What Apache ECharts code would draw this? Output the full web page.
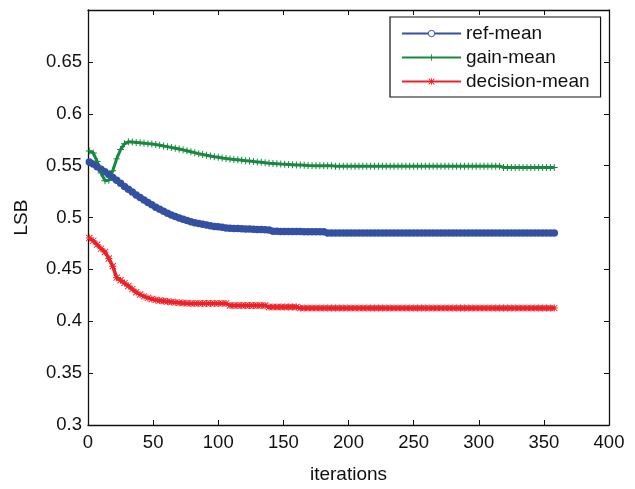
<!DOCTYPE html>
<html>
<head>
<meta charset="utf-8">
<script src="https://cdn.jsdelivr.net/npm/echarts@6/dist/echarts.min.js"></script>
<style>
  html, body { margin: 0; padding: 0; background: #fff; }
  #chart { width: 635px; height: 489px; }
</style>
</head>
<body>
<div id="chart"></div>
<script>
// Iteration numbers at which the mean LSB values are plotted
const iterations = [
  1, 4, 7, 10, 13, 16, 19, 22, 25, 28,
  31, 34, 37, 40, 43, 46, 49, 52, 55, 58,
  61, 64, 67, 70, 73, 76, 79, 82, 85, 88,
  91, 94, 97, 100, 103, 106, 109, 112, 115, 118,
  121, 124, 127, 130, 133, 136, 139, 142, 145, 148,
  151, 154, 157, 160, 163, 166, 169, 172, 175, 178,
  181, 184, 187, 190, 193, 196, 199, 202, 205, 208,
  211, 214, 217, 220, 223, 226, 229, 232, 235, 238,
  241, 244, 247, 250, 253, 256, 259, 262, 265, 268,
  271, 274, 277, 280, 283, 286, 289, 292, 295, 298,
  301, 304, 307, 310, 313, 316, 319, 322, 325, 328,
  331, 334, 337, 340, 343, 346, 349, 352, 355, 358
];

const refMean = [
  0.5535, 0.5515, 0.5490, 0.5465, 0.5440, 0.5415, 0.5385, 0.5358, 0.5330, 0.5300,
  0.5272, 0.5245, 0.5218, 0.5192, 0.5168, 0.5145, 0.5122, 0.5100, 0.5080, 0.5060,
  0.5042, 0.5025, 0.5010, 0.4995, 0.4982, 0.4970, 0.4960, 0.4950, 0.4942, 0.4934,
  0.4927, 0.4920, 0.4914, 0.4910, 0.4905, 0.4900, 0.4897, 0.4895, 0.4893, 0.4891,
  0.4890, 0.4888, 0.4886, 0.4885, 0.4884, 0.4882, 0.4880, 0.4868, 0.4867, 0.4866,
  0.4866, 0.4865, 0.4865, 0.4864, 0.4864, 0.4863, 0.4863, 0.4862, 0.4862, 0.4862,
  0.4862, 0.4850, 0.4850, 0.4850, 0.4850, 0.4850, 0.4850, 0.4850, 0.4850, 0.4850,
  0.4850, 0.4850, 0.4850, 0.4850, 0.4850, 0.4850, 0.4850, 0.4850, 0.4850, 0.4850,
  0.4850, 0.4850, 0.4850, 0.4850, 0.4850, 0.4850, 0.4850, 0.4850, 0.4850, 0.4850,
  0.4850, 0.4850, 0.4850, 0.4850, 0.4850, 0.4850, 0.4850, 0.4850, 0.4850, 0.4850,
  0.4850, 0.4850, 0.4850, 0.4850, 0.4850, 0.4850, 0.4850, 0.4850, 0.4850, 0.4850,
  0.4850, 0.4850, 0.4850, 0.4850, 0.4850, 0.4850, 0.4850, 0.4850, 0.4850, 0.4850
];

const gainMean = [
  0.5640, 0.5622, 0.5540, 0.5430, 0.5355, 0.5360, 0.5450, 0.5565, 0.5655, 0.5710,
  0.5730, 0.5728, 0.5724, 0.5720, 0.5716, 0.5712, 0.5708, 0.5703, 0.5697, 0.5690,
  0.5683, 0.5675, 0.5668, 0.5660, 0.5652, 0.5643, 0.5634, 0.5625, 0.5615, 0.5607,
  0.5600, 0.5593, 0.5586, 0.5580, 0.5574, 0.5569, 0.5564, 0.5560, 0.5556, 0.5552,
  0.5548, 0.5544, 0.5540, 0.5536, 0.5532, 0.5528, 0.5524, 0.5521, 0.5518, 0.5515,
  0.5513, 0.5511, 0.5509, 0.5507, 0.5505, 0.5503, 0.5501, 0.5500, 0.5500, 0.5500,
  0.5500, 0.5500, 0.5500, 0.5495, 0.5495, 0.5495, 0.5495, 0.5495, 0.5495, 0.5495,
  0.5495, 0.5495, 0.5495, 0.5495, 0.5495, 0.5495, 0.5495, 0.5495, 0.5495, 0.5495,
  0.5495, 0.5495, 0.5495, 0.5495, 0.5495, 0.5495, 0.5495, 0.5495, 0.5495, 0.5495,
  0.5495, 0.5495, 0.5495, 0.5495, 0.5495, 0.5495, 0.5495, 0.5495, 0.5495, 0.5495,
  0.5495, 0.5495, 0.5495, 0.5495, 0.5495, 0.5495, 0.5482, 0.5482, 0.5482, 0.5482,
  0.5482, 0.5482, 0.5482, 0.5482, 0.5482, 0.5482, 0.5482, 0.5482, 0.5482, 0.5482
];

const decisionMean = [
  0.4803, 0.4775, 0.4738, 0.4700, 0.4668, 0.4605, 0.4530, 0.4420, 0.4395, 0.4368,
  0.4340, 0.4310, 0.4280, 0.4258, 0.4240, 0.4225, 0.4214, 0.4206, 0.4200, 0.4195,
  0.4190, 0.4186, 0.4182, 0.4178, 0.4175, 0.4173, 0.4172, 0.4172, 0.4172, 0.4172,
  0.4172, 0.4172, 0.4172, 0.4172, 0.4172, 0.4172, 0.4152, 0.4152, 0.4152, 0.4152,
  0.4152, 0.4152, 0.4152, 0.4152, 0.4152, 0.4152, 0.4137, 0.4137, 0.4137, 0.4137,
  0.4137, 0.4137, 0.4137, 0.4137, 0.4127, 0.4127, 0.4127, 0.4127, 0.4127, 0.4127,
  0.4127, 0.4127, 0.4127, 0.4127, 0.4127, 0.4127, 0.4127, 0.4127, 0.4127, 0.4127,
  0.4127, 0.4127, 0.4127, 0.4127, 0.4127, 0.4127, 0.4127, 0.4127, 0.4127, 0.4127,
  0.4127, 0.4127, 0.4127, 0.4127, 0.4127, 0.4127, 0.4127, 0.4127, 0.4127, 0.4127,
  0.4127, 0.4127, 0.4127, 0.4127, 0.4127, 0.4127, 0.4127, 0.4127, 0.4127, 0.4127,
  0.4127, 0.4127, 0.4127, 0.4127, 0.4127, 0.4127, 0.4127, 0.4127, 0.4127, 0.4127,
  0.4127, 0.4127, 0.4127, 0.4127, 0.4127, 0.4127, 0.4127, 0.4127, 0.4127, 0.4127
];

const seriesNames = ['ref-mean', 'gain-mean', 'decision-mean'];
const xTicks = { min: 0, max: 400, interval: 50 };
const yTicks = { min: 0.3, max: 0.7, interval: 0.05 };

const FONT = "'Liberation Sans', Arial, Helvetica, sans-serif";
const INK = '#111';
const BLUE = '#3450a2';
const GREEN = '#17893f';
const RED = '#ec2228';

// marker shapes: plus and asterisk built from filled bars
const PLUS = 'path://M0,4.3H10V5.7H0Z M4.3,0H5.7V10H4.3Z';
const STAR = 'path://M0,4.3H10V5.7H0Z M4.3,0H5.7V10H4.3Z M1,0.1L9.9,9L9,9.9L0.1,1Z M9,0.1L9.9,1L1,9.9L0.1,9Z';

const pairs = ys => iterations.map((x, i) => [x, ys[i]]);

const axisBase = {
  type: 'value',
  axisLine: { show: true, onZero: false, lineStyle: { color: INK, width: 1.3 } },
  axisTick: { show: true, inside: true, length: 5, lineStyle: { color: INK, width: 1 } },
  splitLine: { show: false }
};

const chart = echarts.init(document.getElementById('chart'), null, { renderer: 'canvas' });
chart.setOption({
  animation: false,
  backgroundColor: '#fff',
  grid: { left: 88, top: 10, width: 521, height: 420, containLabel: false },
  legend: {
    orient: 'vertical',
    left: 390,
    top: 17,
    align: 'left',
    padding: [7, 11, 6, 11],
    itemGap: 5,
    itemWidth: 59,
    itemHeight: 8,
    backgroundColor: '#fff',
    borderColor: INK,
    borderWidth: 1.2,
    textStyle: { fontFamily: FONT, fontSize: 19, color: INK },
    data: [
      { name: seriesNames[0], itemStyle: { color: '#fff', borderColor: BLUE, borderWidth: 1 } },
      { name: seriesNames[1] },
      { name: seriesNames[2] }
    ]
  },
  xAxis: [
    Object.assign({}, axisBase, {
      position: 'bottom',
      min: xTicks.min, max: xTicks.max, interval: xTicks.interval,
      name: 'iterations',
      nameLocation: 'middle',
      nameGap: 40,
      nameTextStyle: { fontFamily: FONT, fontSize: 19, color: INK },
      axisLabel: { fontFamily: FONT, fontSize: 18.5, color: INK, margin: 8 }
    }),
    Object.assign({}, axisBase, {
      position: 'top',
      min: xTicks.min, max: xTicks.max, interval: xTicks.interval,
      axisLabel: { show: false }
    })
  ],
  yAxis: [
    Object.assign({}, axisBase, {
      position: 'left',
      min: yTicks.min, max: yTicks.max, interval: yTicks.interval,
      name: 'LSB',
      nameLocation: 'middle',
      nameGap: 57,
      nameTextStyle: { fontFamily: FONT, fontSize: 19, color: INK },
      axisLabel: {
        fontFamily: FONT, fontSize: 18.5, color: INK, margin: 6,
        formatter: v => (v > 0.69 ? '' : String(+v.toFixed(2)))
      }
    }),
    Object.assign({}, axisBase, {
      position: 'right',
      min: yTicks.min, max: yTicks.max, interval: yTicks.interval,
      axisLabel: { show: false }
    })
  ],
  series: [
    {
      name: seriesNames[0], type: 'line', data: pairs(refMean),
      symbol: 'circle', symbolSize: 7.5,
      itemStyle: { color: BLUE },
      lineStyle: { color: BLUE, width: 5 }
    },
    {
      name: seriesNames[1], type: 'line', data: pairs(gainMean),
      symbol: PLUS, symbolSize: 7,
      itemStyle: { color: GREEN },
      lineStyle: { color: GREEN, width: 3 }
    },
    {
      name: seriesNames[2], type: 'line', data: pairs(decisionMean),
      symbol: STAR, symbolSize: 7,
      itemStyle: { color: RED },
      lineStyle: { color: RED, width: 3.5 }
    }
  ]
});
</script>
</body>
</html>
